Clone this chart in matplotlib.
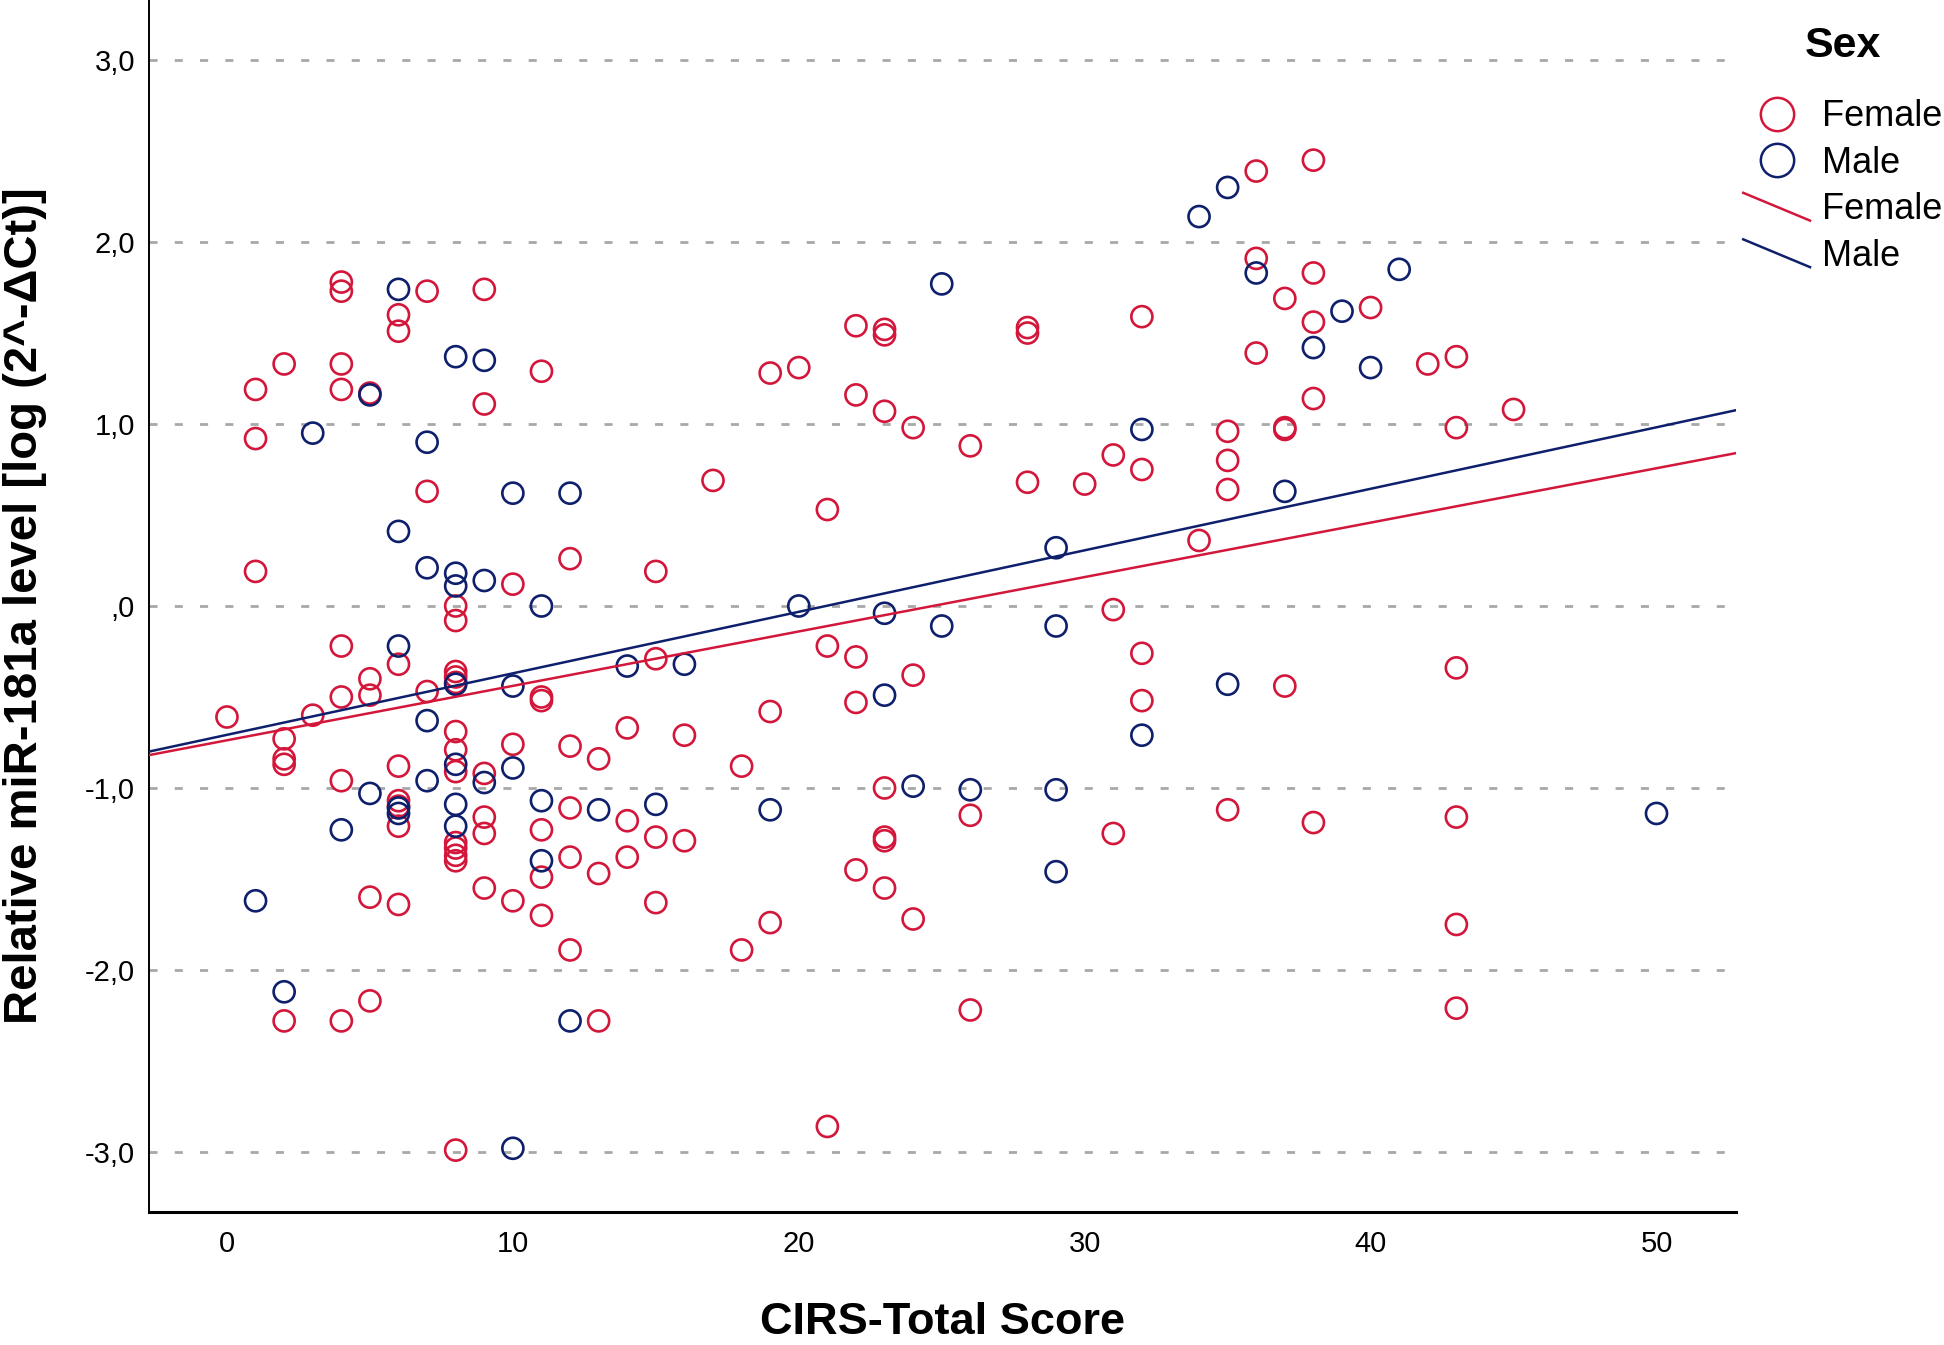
import numpy as np
import matplotlib
matplotlib.use("Agg")
import matplotlib.pyplot as plt
from matplotlib.lines import Line2D
from matplotlib.legend_handler import HandlerBase

plt.rcParams['font.family'] = ['Liberation Sans', 'DejaVu Sans']

# CIRS total score vs. relative miR-181a level
female_x = [0, 1, 1, 1, 2, 2, 2, 2, 2, 3,
            4, 4, 4, 4, 4, 4, 4, 4, 5, 5, 5, 5, 5,
            6, 6, 6, 6, 6, 6, 6, 6, 7, 7, 7,
            8, 8, 8, 8, 8, 8, 8, 8, 8, 8, 8, 8, 8,
            9, 9, 9, 9, 9, 9, 10, 10, 10,
            11, 11, 11, 11, 11, 11, 12, 12, 12, 12, 12,
            13, 13, 13, 14, 14, 14, 15, 15, 15, 15, 16, 16, 17, 18, 18,
            19, 19, 19, 20, 21, 21, 21, 22, 22, 22, 22, 22,
            23, 23, 23, 23, 23, 23, 23, 24, 24, 24, 26, 26, 26,
            28, 28, 28, 30, 31, 31, 31, 32, 32, 32, 32, 34,
            35, 35, 35, 35, 36, 36, 36, 37, 37, 37, 37,
            38, 38, 38, 38, 38, 40, 42, 43, 43, 43, 43, 43, 43, 45]
female_y = [-0.61, 1.19, 0.92, 0.19, 1.33, -0.73, -0.84, -0.87, -2.28, -0.60,
            1.78, 1.73, 1.33, 1.19, -0.22, -0.50, -0.96, -2.28, 1.17, -0.40, -0.49, -1.60, -2.17,
            1.60, 1.51, -0.32, -0.88, -1.07, -1.10, -1.21, -1.64, 1.73, 0.63, -0.47,
            0.00, -0.08, -0.36, -0.39, -0.69, -0.79, -0.91, -1.30, -1.33, -1.37, -1.40, -0.42, -2.99,
            1.74, 1.11, -0.92, -1.16, -1.25, -1.55, 0.12, -0.76, -1.62,
            1.29, -0.50, -0.52, -1.23, -1.49, -1.70, 0.26, -0.77, -1.11, -1.38, -1.89,
            -0.84, -1.47, -2.28, -0.67, -1.18, -1.38, 0.19, -0.29, -1.27, -1.63, -0.71, -1.29, 0.69, -0.88, -1.89,
            1.28, -0.58, -1.74, 1.31, 0.53, -0.22, -2.86, 1.54, 1.16, -0.28, -0.53, -1.45,
            1.52, 1.49, 1.07, -1.00, -1.27, -1.29, -1.55, 0.98, -0.38, -1.72, 0.88, -1.15, -2.22,
            1.53, 1.50, 0.68, 0.67, 0.83, -0.02, -1.25, 1.59, 0.75, -0.26, -0.52, 0.36,
            0.96, 0.80, 0.64, -1.12, 2.39, 1.91, 1.39, 1.69, 0.98, 0.97, -0.44,
            2.45, 1.83, 1.56, 1.14, -1.19, 1.64, 1.33, 1.37, 0.98, -0.34, -1.16, -1.75, -2.21, 1.08]

male_x = [1, 2, 3, 4, 5, 5, 6, 6, 6, 6, 6, 7, 7, 7, 7,
          8, 8, 8, 8, 8, 8, 8, 9, 9, 9, 10, 10, 10, 10,
          11, 11, 11, 12, 12, 13, 14, 15, 16, 19, 20, 23, 23, 24,
          25, 25, 26, 29, 29, 29, 29, 32, 32, 34, 35, 35, 36, 37,
          38, 39, 40, 41, 50]
male_y = [-1.62, -2.12, 0.95, -1.23, 1.16, -1.03, 1.74, 0.41, -0.22, -1.11, -1.14, 0.90, 0.21, -0.63, -0.96,
          1.37, 0.18, 0.11, -0.43, -0.87, -1.09, -1.21, 1.35, 0.14, -0.97, 0.62, -0.44, -0.89, -2.98,
          0.00, -1.07, -1.40, 0.62, -2.28, -1.12, -0.33, -1.09, -0.32, -1.12, 0.00, -0.04, -0.49, -0.99,
          1.77, -0.11, -1.01, 0.32, -0.11, -1.01, -1.46, 0.97, -0.71, 2.14, 2.30, -0.43, 1.83, 0.63,
          1.42, 1.62, 1.31, 1.85, -1.14]

# fit lines (intercept, slope) as shown in the figure
female_fit = [-0.738, 0.0299]
male_fit = [-0.708, 0.0338]

y_ticks = [-3, -2, -1, 0, 1, 2, 3]
y_ticklabels = ['-3,0', '-2,0', '-1,0', ',0', '1,0', '2,0', '3,0']
x_ticks = [0, 10, 20, 30, 40, 50]

red = '#D3173B'
navy = '#0E1F6C'


class SlantHandler(HandlerBase):
    # legend key drawn as a short descending diagonal line
    def create_artists(self, legend, orig_handle, xdescent, ydescent,
                       width, height, fontsize, trans):
        x0, y0 = -xdescent, -ydescent
        line = Line2D([x0, x0 + width], [y0 + height * 1.05, y0 - height * 0.05],
                      color=orig_handle.get_color(), lw=orig_handle.get_linewidth(),
                      transform=trans)
        return [line]


fig = plt.figure(figsize=(19.44, 13.45), dpi=100)
ax = fig.add_axes([0.0766, 0.0989, 0.8164, 0.9011])

xlim = (-2.73, 52.78)
ax.set_xlim(xlim)
ax.set_ylim(-3.33, 3.33)

ax.scatter(female_x, female_y, s=230, facecolors='none', edgecolors=red, linewidths=1.9, zorder=3)
ax.scatter(male_x, male_y, s=230, facecolors='none', edgecolors=navy, linewidths=1.9, zorder=3)

xs = np.array(xlim)
ax.plot(xs, female_fit[0] + female_fit[1] * xs, color=red, lw=1.8, zorder=4)
ax.plot(xs, male_fit[0] + male_fit[1] * xs, color=navy, lw=1.8, zorder=4)

for yv in y_ticks:
    ax.axhline(yv, color='#A8A8A8', lw=2.0, dashes=(2.9, 6.2), zorder=1)

ax.set_yticks(y_ticks)
ax.set_yticklabels(y_ticklabels)
ax.set_xticks(x_ticks)
ax.tick_params(axis='both', length=0, labelsize=21)
ax.tick_params(axis='x', pad=13)
ax.tick_params(axis='y', pad=10)

for s in ['top', 'right']:
    ax.spines[s].set_visible(False)
ax.spines['left'].set_linewidth(1.4)
ax.spines['bottom'].set_linewidth(2.2)

ax.set_xlabel('CIRS-Total Score', fontsize=32.5, fontweight='bold', labelpad=32)
ax.set_ylabel('Relative miR-181a level [log (2^-\u0394Ct)]', fontsize=34, fontweight='bold')
ax.yaxis.set_label_coords(-0.064, 0.5)

fig.text(0.948, 1 - 46 / 1345, 'Sex', ha='center', va='center', fontsize=31, fontweight='bold')

handles = [
    Line2D([], [], marker='o', ls='none', markersize=24, markerfacecolor='none',
           markeredgecolor=red, markeredgewidth=1.8),
    Line2D([], [], marker='o', ls='none', markersize=24, markerfacecolor='none',
           markeredgecolor=navy, markeredgewidth=1.8),
    Line2D([], [], color=red, lw=1.8),
    Line2D([], [], color=navy, lw=1.8),
]
labels = ['Female', 'Male', 'Female', 'Male']
leg = fig.legend(handles, labels, loc='upper left',
                 bbox_to_anchor=(0.893, 0.9316), frameon=False, fontsize=26,
                 handlelength=1.85, handletextpad=0.33, labelspacing=0.32,
                 borderpad=0.2, borderaxespad=0,
                 handler_map={handles[2]: SlantHandler(), handles[3]: SlantHandler()})

fig.savefig('out.png', dpi=100)
